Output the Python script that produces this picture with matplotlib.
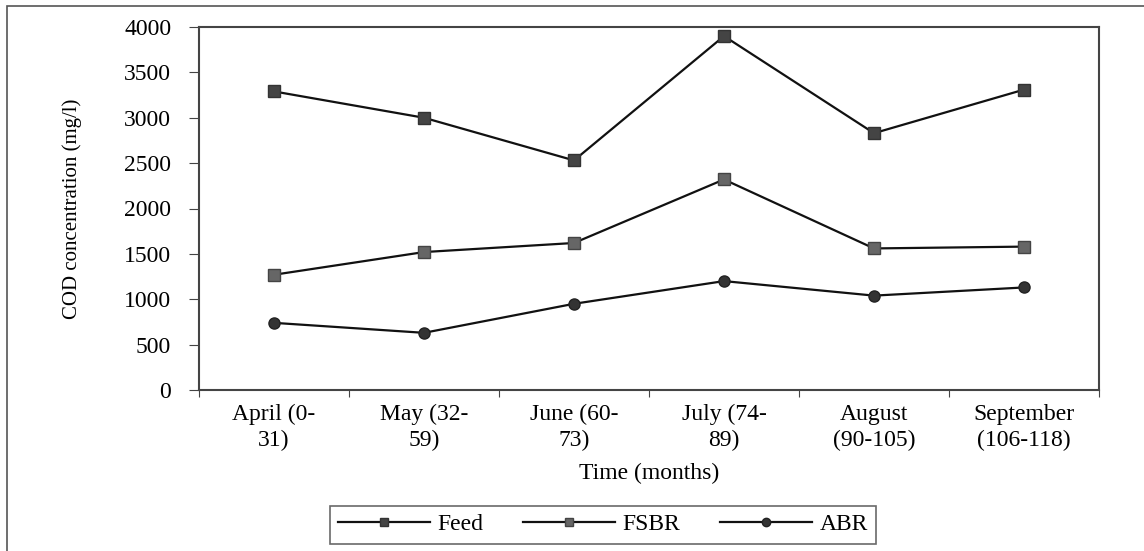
import numpy as np
import matplotlib.pyplot as plt
from matplotlib.patches import Rectangle
from matplotlib.lines import Line2D

months = ['April (0-\n31)', 'May (32-\n59)', 'June (60-\n73)', 'July (74-\n89)',
          'August\n(90-105)', 'September\n(106-118)']
feed = [3290, 3000, 2530, 3900, 2830, 3310]
fsbr = [1270, 1520, 1620, 2320, 1560, 1580]
abr = [740, 630, 950, 1200, 1040, 1130]

plt.rcParams['font.family'] = ['Liberation Serif', 'DejaVu Serif']

fig = plt.figure(figsize=(11.44, 5.51), dpi=100)
fig.patches.append(Rectangle((7 / 1144, -0.1), 1.0, 1.1 - 6 / 551, transform=fig.transFigure,
                             fill=False, edgecolor='#555555', linewidth=1.2))
ax = fig.add_axes([199 / 1144, 161 / 551, 900 / 1144, 363 / 551])

x = np.arange(len(months))
ax.plot(x, feed, color='#111111', lw=1.6, marker='s', ms=8, mfc='#444444', mec='#333333')
ax.plot(x, fsbr, color='#111111', lw=1.6, marker='s', ms=8, mfc='#666666', mec='#444444')
ax.plot(x, abr, color='#111111', lw=1.6, marker='o', ms=8, mfc='#333333', mec='#222222')

ax.set_xlim(-0.5, len(months) - 0.5)
ax.set_ylim(0, 4000)
ax.set_yticks(np.arange(0, 4001, 500))
ax.set_xticks(np.arange(-0.5, len(months), 1.0))
ax.set_xticklabels([])
ax.set_xticks(x, minor=True)
ax.set_xticklabels(months, minor=True, fontsize=17, linespacing=1.32)
ax.tick_params(axis='x', which='minor', length=0, pad=10)
ax.tick_params(axis='x', which='major', length=5, direction='out', color='#444444')
ax.tick_params(axis='y', length=7, direction='out', labelsize=17, pad=13, color='#444444')

for s in ax.spines.values():
    s.set_color('#444444')
    s.set_linewidth(1.5)

ax.set_ylabel('COD concentration (mg/l)', fontsize=15, labelpad=30)
ax.set_xlabel('Time (months)', fontsize=17, labelpad=8)

handles = [
    Line2D([], [], color='#111111', lw=1.6, marker='s', ms=6, mfc='#444444', mec='#333333'),
    Line2D([], [], color='#111111', lw=1.6, marker='s', ms=6, mfc='#666666', mec='#444444'),
    Line2D([], [], color='#111111', lw=1.6, marker='o', ms=6, mfc='#333333', mec='#222222'),
]
leg = fig.legend(handles, ['Feed', 'FSBR', 'ABR'], loc='center', bbox_to_anchor=(0.527, 0.048),
                 ncol=3, fontsize=17, frameon=True, fancybox=False, edgecolor='#444444',
                 handlelength=3.9, columnspacing=1.7, handletextpad=0.3, borderpad=0.35,
                 borderaxespad=0)
leg.get_frame().set_linewidth(1.2)

fig.savefig('out.png', dpi=100)
